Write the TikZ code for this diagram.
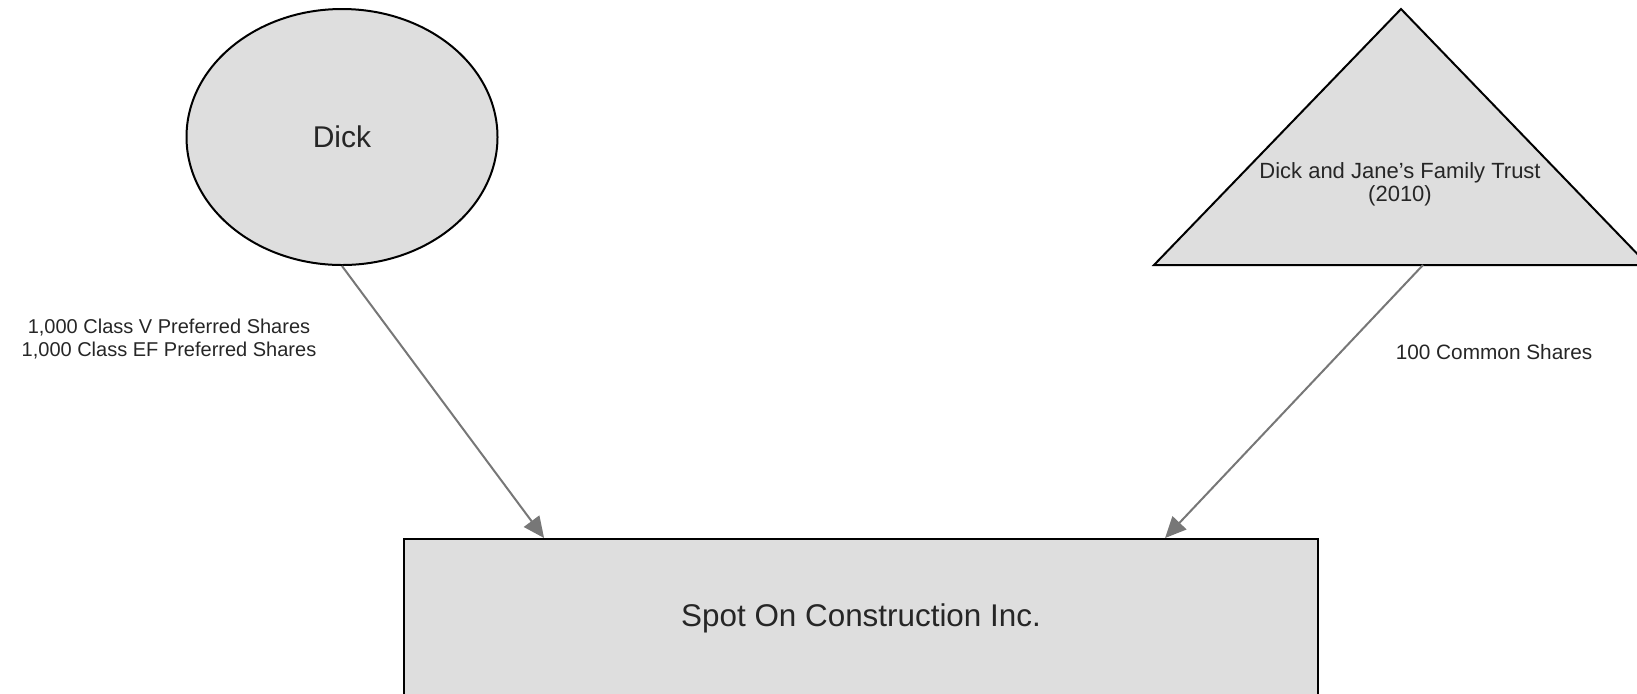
\documentclass[tikz,border=0pt]{standalone}
\usepackage{fontspec}
\setmainfont{Liberation Sans}
\definecolor{ShapeGray}{HTML}{DEDEDE}
\definecolor{ArrowGray}{HTML}{777777}
\usetikzlibrary{arrows.meta,positioning,shapes.geometric,calc}

\begin{document}
\begin{tikzpicture}[x=0.5pt,y=-0.5pt,
    holder/.style={draw,fill=ShapeGray,line width=1pt,align=center,text=black!85},
    lbl/.style={align=center,font=\fontsize{10}{11.5}\selectfont,text=black!85}]
  \useasboundingbox (0,0) rectangle (1637,693);
  % owners
  \node[holder,ellipse,minimum width=155.5pt,minimum height=128pt,font=\fontsize{15}{18}\selectfont] (dick) at (342,137) {Dick};
  \draw[fill=ShapeGray,line width=1pt] (1154,265) -- (1401,9) -- (1648,265) -- cycle;
  \node[align=center,text=black!85,font=\fontsize{11}{11.5}\selectfont] (trust) at (1400,184) {Dick and Jane's Family Trust\\(2010)};
  \coordinate (trustout) at (1423,265);
  % company
  \node[holder,minimum width=457pt,minimum height=79.5pt,font=\fontsize{15.7}{18}\selectfont] (spot) at (861,618.5) {Spot On Construction Inc.};
  \coordinate (dickin) at ($(spot.north west)!0.154!(spot.north east)$);
  \coordinate (trustin) at ($(spot.north west)!0.832!(spot.north east)$);
  % share labels
  \node[lbl] (dickshares) at (169,339) {1,000 Class V Preferred Shares\\1,000 Class EF Preferred Shares};
  \node[lbl,font=\fontsize{10.4}{11.5}\selectfont] (trustshares) at (1494,352) {100 Common Shares};
  \foreach \x/\y in {dick.south/dickin,trustout/trustin}{\draw[-{Triangle[length=10.5pt,width=9.5pt]},line width=1pt,ArrowGray] (\x)--(\y);}
\end{tikzpicture}
\end{document}
